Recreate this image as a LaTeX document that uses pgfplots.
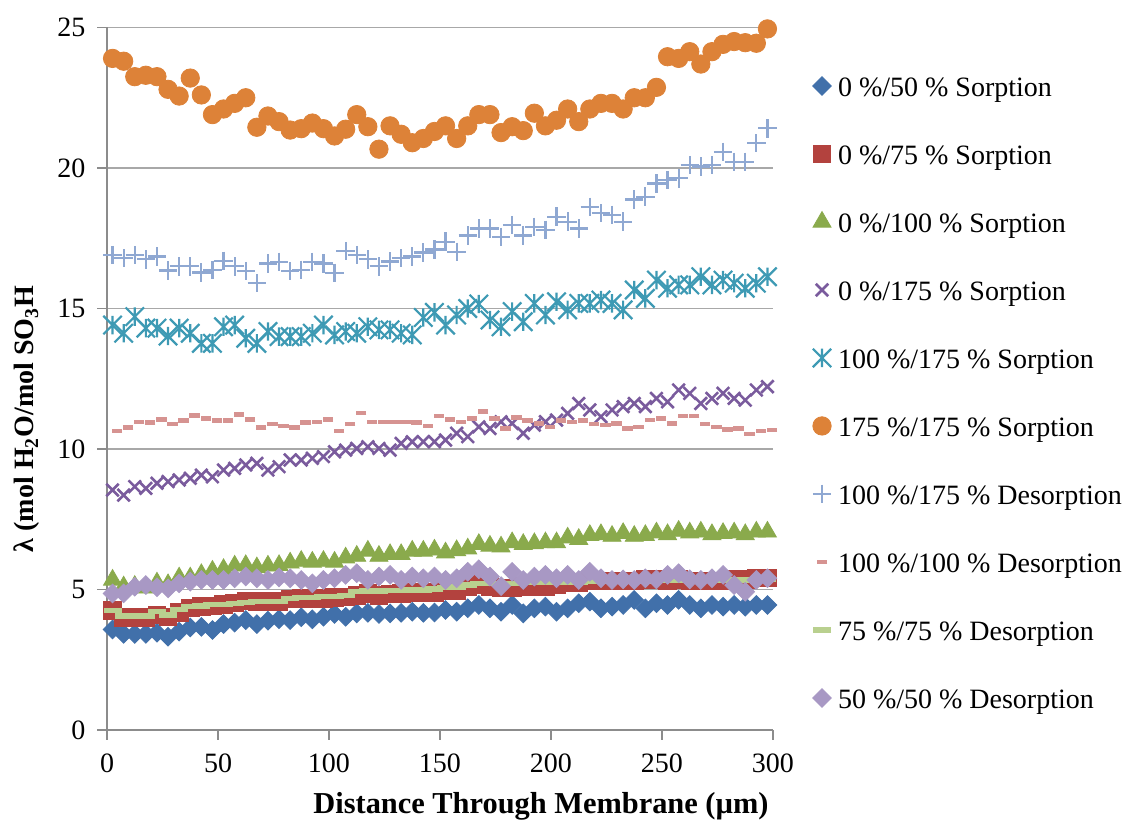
\documentclass[border=0pt]{standalone}
\usepackage{pgfplots}
\pgfplotsset{compat=1.18}
\usepackage{pgfplotstable}
\usepackage{fontspec}
\setmainfont{Liberation Serif}

\definecolor{cBlue}{HTML}{4170AA}
\definecolor{cRed}{HTML}{B3423E}
\definecolor{cGreen}{HTML}{8AAA4C}
\definecolor{cPurple}{HTML}{7A5B9D}
\definecolor{cTeal}{HTML}{3E9AB4}
\definecolor{cOrange}{HTML}{DD8238}
\definecolor{cLBlue}{HTML}{8FA8D2}
\definecolor{cPink}{HTML}{D69391}
\definecolor{cLGreen}{HTML}{B9D08F}
\definecolor{cLPurple}{HTML}{A898C4}
\definecolor{gridgray}{HTML}{A8A8A8}
\definecolor{axisgray}{HTML}{8C8C8C}

\pgfdeclareplotmark{xstar}{%
  \pgfpathmoveto{\pgfqpoint{-\pgfplotmarksize}{-\pgfplotmarksize}}%
  \pgfpathlineto{\pgfqpoint{\pgfplotmarksize}{\pgfplotmarksize}}%
  \pgfpathmoveto{\pgfqpoint{-\pgfplotmarksize}{\pgfplotmarksize}}%
  \pgfpathlineto{\pgfqpoint{\pgfplotmarksize}{-\pgfplotmarksize}}%
  \pgfpathmoveto{\pgfqpoint{0pt}{-\pgfplotmarksize}}%
  \pgfpathlineto{\pgfqpoint{0pt}{\pgfplotmarksize}}%
  \pgfusepathqstroke}

\pgfplotstableread{
x a b c d e f g h i
2.5 3.58 4.25 5.34 8.54 14.41 23.9 16.9 4.25 4.86
7.5 3.42 4.01 5.1 8.36 14.12 23.8 16.79 4.06 4.86
12.5 3.42 4.01 5.12 8.66 14.71 23.25 16.9 4.06 5.1
17.5 3.42 4.01 5.06 8.6 14.3 23.3 16.75 4.06 5.16
22.5 3.46 4.09 5.24 8.78 14.3 23.25 16.85 4.21 5.08
27.5 3.32 4.03 5.18 8.84 14.02 22.8 16.35 4.09 5.04
32.5 3.5 4.19 5.42 8.9 14.3 22.56 16.5 4.29 5.22
37.5 3.65 4.35 5.42 8.96 14.12 23.2 16.5 4.39 5.28
42.5 3.67 4.39 5.54 9.07 13.76 22.6 16.28 4.41 5.34
47.5 3.56 4.41 5.66 9.01 13.76 21.9 16.38 4.48 5.34
52.5 3.77 4.48 5.72 9.25 14.35 22.1 16.7 4.48 5.34
57.5 3.82 4.53 5.84 9.31 14.41 22.3 16.5 4.51 5.4
62.5 3.91 4.59 5.86 9.43 13.94 22.5 16.33 4.55 5.46
67.5 3.77 4.57 5.78 9.49 13.76 21.45 15.9 4.58 5.4
72.5 3.89 4.57 5.84 9.25 14.18 21.85 16.6 4.58 5.34
77.5 3.94 4.57 5.86 9.37 14.0 21.65 16.66 4.58 5.43
82.5 3.91 4.66 5.95 9.61 14.0 21.35 16.33 4.69 5.4
87.5 4.01 4.69 6.01 9.61 14.0 21.4 16.38 4.72 5.34
92.5 3.94 4.69 5.98 9.67 14.12 21.6 16.66 4.72 5.22
97.5 4.03 4.69 6.01 9.73 14.41 21.4 16.6 4.74 5.34
102.5 4.13 4.72 5.98 9.9 14.06 21.14 16.27 4.74 5.4
107.5 4.03 4.74 6.13 9.96 14.18 21.38 17.04 4.8 5.52
112.5 4.15 4.8 6.19 10.02 14.12 21.9 16.9 4.92 5.58
117.5 4.17 4.86 6.37 10.08 14.35 21.47 16.75 4.95 5.34
122.5 4.13 4.8 6.19 10.02 14.24 20.67 16.5 4.95 5.46
127.5 4.15 4.84 6.25 9.96 14.24 21.5 16.67 4.96 5.52
132.5 4.17 4.86 6.25 10.2 14.12 21.2 16.79 4.96 5.34
137.5 4.21 4.89 6.37 10.26 14.06 20.9 16.85 4.98 5.46
142.5 4.17 4.89 6.37 10.26 14.68 21.05 16.99 4.98 5.4
147.5 4.18 4.9 6.41 10.26 14.86 21.3 17.1 5.02 5.46
152.5 4.27 4.95 6.31 10.32 14.41 21.5 17.38 5.08 5.34
157.5 4.21 4.95 6.39 10.56 14.77 21.05 17.02 5.09 5.4
162.5 4.33 5.12 6.45 10.44 15.0 21.5 17.6 5.16 5.63
167.5 4.45 5.18 6.61 10.79 15.16 21.9 17.85 5.2 5.72
172.5 4.33 5.12 6.55 10.73 14.59 21.9 17.85 5.2 5.46
177.5 4.21 5.06 6.52 10.97 14.35 21.26 17.55 5.22 5.12
182.5 4.45 5.06 6.67 10.91 14.89 21.47 17.97 5.22 5.63
187.5 4.15 5.12 6.61 10.56 14.53 21.33 17.6 5.24 5.34
192.5 4.33 5.12 6.64 10.85 15.18 21.95 17.91 5.24 5.46
197.5 4.39 5.12 6.67 10.97 14.77 21.5 17.8 5.25 5.52
202.5 4.21 5.18 6.67 11.03 15.24 21.7 18.27 5.26 5.4
207.5 4.33 5.24 6.84 11.27 14.95 22.1 18.09 5.26 5.52
212.5 4.51 5.24 6.79 11.62 15.18 21.65 17.85 5.27 5.34
217.5 4.57 5.3 6.93 11.39 15.18 22.1 18.62 5.28 5.63
222.5 4.33 5.3 6.96 11.15 15.3 22.3 18.39 5.28 5.4
227.5 4.39 5.3 6.9 11.39 15.18 22.3 18.33 5.29 5.34
232.5 4.45 5.3 7.0 11.51 14.95 22.1 18.09 5.3 5.36
237.5 4.63 5.3 6.9 11.62 15.66 22.5 18.88 5.3 5.34
242.5 4.33 5.36 6.93 11.51 15.36 22.5 18.98 5.3 5.4
247.5 4.51 5.36 7.02 11.8 16.01 22.87 19.45 5.31 5.36
252.5 4.45 5.3 6.96 11.68 15.72 23.96 19.57 5.31 5.52
257.5 4.63 5.36 7.08 12.1 15.84 23.9 19.63 5.32 5.58
262.5 4.45 5.3 7.02 11.98 15.84 24.14 20.1 5.32 5.36
267.5 4.33 5.3 7.05 11.62 16.13 23.7 20.05 5.33 5.34
272.5 4.45 5.3 6.96 11.8 15.84 24.14 20.1 5.33 5.4
277.5 4.39 5.3 7.0 11.98 16.01 24.4 20.58 5.33 5.52
282.5 4.45 5.36 7.02 11.8 15.9 24.5 20.22 5.34 5.16
287.5 4.39 5.36 6.96 11.74 15.72 24.46 20.22 5.34 4.92
292.5 4.45 5.42 7.05 12.1 15.9 24.44 20.88 5.35 5.34
297.5 4.45 5.42 7.05 12.22 16.13 24.95 21.41 5.35 5.4
}\datatab

\pgfplotstableread{
x p
4.5 10.64
9.5 10.76
14.5 10.97
19.5 10.94
24.5 11.05
29.5 10.89
34.5 11.01
39.5 11.19
44.5 11.09
49.5 11.01
54.5 11.01
59.5 11.23
64.5 11.05
69.5 10.77
74.5 10.89
79.5 10.82
84.5 10.77
89.5 10.94
94.5 10.97
99.5 11.05
104.5 10.64
109.5 10.89
114.5 11.29
119.5 10.97
124.5 10.97
129.5 10.97
134.5 10.97
139.5 10.94
144.5 10.82
149.5 11.17
154.5 11.05
159.5 10.97
164.5 11.09
169.5 11.33
174.5 11.09
179.5 10.73
184.5 11.12
189.5 11.01
194.5 10.91
199.5 10.79
204.5 11.01
209.5 10.97
214.5 11.01
219.5 10.89
224.5 10.85
229.5 10.91
234.5 10.73
239.5 10.79
244.5 11.03
249.5 11.09
254.5 10.91
259.5 11.17
264.5 11.17
269.5 10.89
274.5 10.79
279.5 10.7
284.5 10.73
289.5 10.53
294.5 10.65
299.5 10.67
}\pinktab

\pgfplotsset{
  M/.style={only marks, legend image code/.code={%
    \path[draw=none, fill=none] (-5pt,-3pt) rectangle (5pt,7pt);
    \draw[##1] plot coordinates {(0pt,1.7pt)};}},
}

\begin{document}
\begin{tikzpicture}[x=1pt,y=1pt]
\useasboundingbox (0,0) rectangle (565.5,410.5);
\begin{axis}[
  at={(53.5pt,45.5pt)}, anchor=south west,
  width=333pt, height=351.25pt, scale only axis,
  xmin=0, xmax=300, ymin=0, ymax=25,
  xtick={0,50,...,300}, ytick={0,5,...,25},
  axis lines=left,
  axis line style={-, draw=axisgray, line width=0.7pt},
  tick align=outside, major tick length=4.8pt,
  tick style={draw=axisgray, line width=0.7pt},
  ymajorgrids, grid style={draw=gridgray, line width=0.7pt},
  clip=false,
  /pgf/number format/assume math mode=true,
  ticklabel style={font=\fontsize{14}{16}\selectfont, text=black},
  xticklabel style={yshift=-3.5pt},
  yticklabel style={xshift=-2.5pt},
  legend style={at={(1.0586,0.9319)}, anchor=north west, draw=none, fill=none,
    inner sep=0pt, outer sep=0pt, font=\fontsize{14}{16}\selectfont,
    row sep=20.5pt,
    nodes={inner sep=0pt, text height=10pt, text depth=3pt},
    /tikz/every odd column/.append style={column sep=3pt}},
  legend cell align=left,
]
\addplot[M, mark=square*, mark size=3.3pt, mark options={rotate=45, fill=cBlue, draw=cBlue}] table[x=x,y=a] {\datatab};
\addlegendentry{0 \%/50 \% Sorption}
\addplot[M, mark=square*, mark size=4.4pt, mark options={fill=cRed, draw=cRed}] table[x=x,y=b] {\datatab};
\addlegendentry{0 \%/75 \% Sorption}
\addplot[M, mark=triangle*, mark size=5.2pt, mark options={fill=cGreen, draw=cGreen}] table[x=x,y=c] {\datatab};
\addlegendentry{0 \%/100 \% Sorption}
\addplot[M, mark=x, mark size=4.4pt, mark options={draw=cPurple, line width=1.3pt}] table[x=x,y=d] {\datatab};
\addlegendentry{0 \%/175 \% Sorption}
\addplot[M, mark=xstar, mark size=4.6pt, mark options={draw=cTeal, line width=1.1pt}] table[x=x,y=e] {\datatab};
\addlegendentry{100 \%/175 \% Sorption}
\addplot[M, mark=*, mark size=4.6pt, mark options={fill=cOrange, draw=cOrange}] table[x=x,y=f] {\datatab};
\addlegendentry{175 \%/175 \% Sorption}
\addplot[M, mark=+, mark size=4.6pt, mark options={draw=cLBlue, line width=1.1pt}] table[x=x,y=g] {\datatab};
\addlegendentry{100 \%/175 \% Desorption}
\addplot[M, mark=-, mark size=2.6pt, mark options={draw=cPink, line width=2.2pt}] table[x=x,y=p] {\pinktab};
\addlegendentry{100 \%/100 \% Desorption}
\addplot[M, mark=-, mark size=4.5pt, mark options={draw=cLGreen, line width=2.6pt}] table[x=x,y=h] {\datatab};
\addlegendentry{75 \%/75 \% Desorption}
\addplot[M, mark=square*, mark size=3.3pt, mark options={rotate=45, fill=cLPurple, draw=cLPurple}] table[x=x,y=i] {\datatab};
\addlegendentry{50 \%/50 \% Desorption}
\end{axis}
\node[font=\bfseries\fontsize{15.2}{17}\selectfont, anchor=base] at (270.5,4) {Distance Through Membrane (µm)};
\node[font=\bfseries\fontsize{14}{16}\selectfont, rotate=90, anchor=center] at (13.5,201) {λ (mol H\textsubscript{2}O/mol SO\textsubscript{3}H};
\end{tikzpicture}
\end{document}
